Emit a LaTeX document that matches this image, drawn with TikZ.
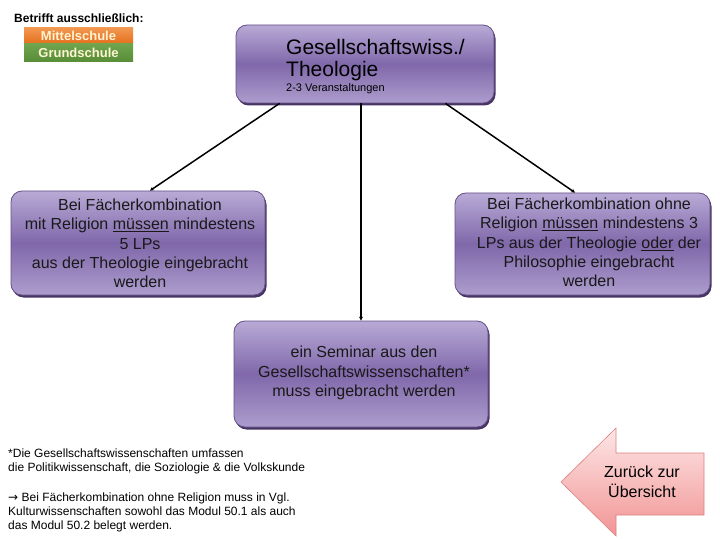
\documentclass[tikz,border=0pt]{standalone}
\usepackage{fontspec}
\setmainfont{Liberation Sans}
\newfontfamily\pfeilfont{DejaVu Sans}
\usetikzlibrary{arrows.meta,shadows}

\definecolor{boxtop}{RGB}{184,170,214}
\definecolor{boxmid}{RGB}{128,104,170}
\definecolor{boxedge}{RGB}{100,80,135}
\definecolor{boxshade}{RGB}{72,52,98}
\definecolor{mscol}{RGB}{228,112,30}
\definecolor{mstop}{RGB}{242,152,82}
\definecolor{gscol}{RGB}{88,142,56}
\definecolor{gstop}{RGB}{112,164,78}
\definecolor{tagtext}{RGB}{255,244,210}
\definecolor{backtop}{RGB}{253,230,230}
\definecolor{backbot}{RGB}{242,148,148}
\definecolor{backedge}{RGB}{220,128,128}

\tikzset{
  fachbox/.style={draw=boxedge, line width=0.8pt, rounded corners=11pt,
    top color=boxtop, bottom color=boxtop!80!boxmid, middle color=boxmid,
    drop shadow={shadow xshift=1.5pt, shadow yshift=-2.5pt, fill=boxshade, opacity=1},
    inner sep=0pt},
  fachtext/.style={align=center, inner sep=0pt, text=black!90,
    font=\fontsize{16}{19.3}\selectfont},
  conn/.style={line width=1.5pt, -{Stealth[length=4pt,width=4pt]}},
  tag/.style={text=tagtext, inner sep=0pt, minimum width=109pt,
    font=\bfseries\fontsize{13}{14}\selectfont},
  note/.style={align=left, anchor=west, inner sep=0pt,
    font=\fontsize{12}{14}\selectfont},
  backarrow/.style={draw=backedge, line width=0.6pt, top color=backtop, bottom color=backbot}
}

\begin{document}
\begin{tikzpicture}[x=1pt,y=-1pt]

\useasboundingbox (0,0) rectangle (720,540);

\node [anchor=base west, inner sep=0pt, font=\bfseries\fontsize{12}{14}\selectfont] (betrifft) at (14,23) {Betrifft ausschließlich:};
\node [tag, minimum height=16pt, top color=mstop, bottom color=mscol] (mittel) at (78.5,35.5) {Mittelschule};
\node [tag, minimum height=18pt, top color=gstop, bottom color=gscol] (grund) at (78.5,52.5) {Grundschule};

\node [fachbox, minimum width=258pt, minimum height=78pt] (top) at (365,64) {};
\node [fachbox, minimum width=254pt, minimum height=104pt] (lbox) at (138,243) {};
\node [fachbox, minimum width=255pt, minimum height=102pt] (rbox) at (582.5,244) {};
\node [fachbox, minimum width=254pt, minimum height=106pt] (cbox) at (361,374) {};

\node [anchor=base west, inner sep=0pt, font=\fontsize{21}{22}\selectfont] (title1) at (286,55) {Gesellschaftswiss./};
\node [anchor=base west, inner sep=0pt, font=\fontsize{21}{22}\selectfont] (title2) at (286,77) {Theologie};
\node [anchor=base west, inner sep=0pt, font=\fontsize{11}{12}\selectfont] (anzahl) at (286,92) {2-3 Veranstaltungen};

\node [fachtext] (ltext) at (140,243.5) {Bei Fächerkombination\\mit Religion \underline{müssen} mindestens\\5 LPs\\aus der Theologie eingebracht\\werden};
\node [fachtext] (rtext) at (589,242.5) {Bei Fächerkombination ohne\\Religion \underline{müssen} mindestens 3\\LPs aus der Theologie \underline{oder} der\\Philosophie eingebracht\\werden};
\node [fachtext] (ctext) at (364,373) {ein Seminar aus den\\Gesellschaftswissenschaften*\\muss eingebracht werden};

\draw [conn] ([xshift=44pt]top.south west) -- ([xshift=12pt]lbox.north);
\draw [conn] (top.south -| cbox.north) -- (cbox.north);
\draw [conn] ([xshift=-49pt]top.south east) -- ([xshift=-7.5pt]rbox.north);

\node [note] (stern) at (8,461) {*Die Gesellschaftswissenschaften umfassen\\die Politikwissenschaft, die Soziologie \& die Volkskunde};
\node [note] (hinweis) at (8,512) {{\pfeilfont →} Bei Fächerkombination ohne Religion muss in Vgl.\\Kulturwissenschaften sowohl das Modul 50.1 als auch\\das Modul 50.2 belegt werden.};

\coordinate (A) at (561,482);
\coordinate (B) at (616,428);
\coordinate (C) at (616,453);
\coordinate (D) at (704,453);
\coordinate (E) at (704,515);
\coordinate (F) at (616,515);
\coordinate (G) at (616,536);

\draw [backarrow]
(A)
--(B)
--(C)
--(D)
--(E)
--(F)
--(G)
--cycle;

\node [align=center, inner sep=0pt, font=\fontsize{16}{20}\selectfont] (zurueck) at (642,482) {Zurück zur\\Übersicht};

\end{tikzpicture}
\end{document}
